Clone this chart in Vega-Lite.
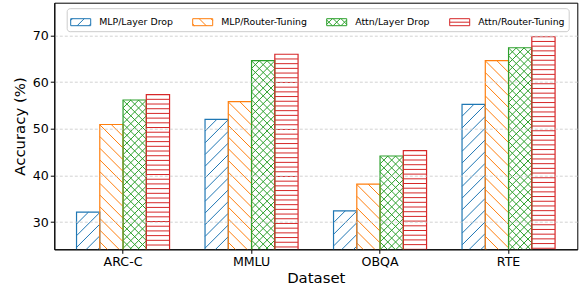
{
  "$schema": "https://vega.github.io/schema/vega-lite/v6.json",
  "width": 523,
  "height": 246.6,
  "autosize": "none",
  "padding": {"left": 54.3, "top": 2.7, "right": 6.7, "bottom": 39.7},
  "config": {
    "font": "DejaVu Sans",
    "view": {"stroke": "black", "strokeWidth": 1},
    "axis": {
      "labelFont": "DejaVu Sans",
      "titleFont": "DejaVu Sans",
      "labelFontSize": 12.6,
      "titleFontSize": 14.9,
      "titleFontWeight": "normal",
      "labelColor": "black",
      "titleColor": "black",
      "tickColor": "black",
      "domainColor": "black",
      "tickSize": 4,
      "labelPadding": 2
    },
    "legend": {
      "orient": "none",
      "legendX": 12.4,
      "legendY": 5.5,
      "direction": "horizontal",
      "columns": 4,
      "symbolSize": 400,
      "symbolStrokeWidth": 1,
      "symbolOpacity": 1,
      "symbolFillColor": "transparent",
      "labelFont": "DejaVu Sans",
      "labelFontSize": 9.4,
      "labelColor": "black",
      "labelOffset": 8,
      "columnPadding": 17,
      "padding": 3.5,
      "strokeColor": "#cccccc",
      "fillColor": "white",
      "cornerRadius": 3,
      "zindex": 2
    }
  },
  "data": {
    "values": [
      {"dataset": "ARC-C", "method": "MLP/Layer Drop", "accuracy": 32.1},
      {"dataset": "ARC-C", "method": "MLP/Router-Tuning", "accuracy": 50.9},
      {"dataset": "ARC-C", "method": "Attn/Layer Drop", "accuracy": 56.15},
      {"dataset": "ARC-C", "method": "Attn/Router-Tuning", "accuracy": 57.3},
      {"dataset": "MMLU", "method": "MLP/Layer Drop", "accuracy": 52.0},
      {"dataset": "MMLU", "method": "MLP/Router-Tuning", "accuracy": 55.8},
      {"dataset": "MMLU", "method": "Attn/Layer Drop", "accuracy": 64.6},
      {"dataset": "MMLU", "method": "Attn/Router-Tuning", "accuracy": 65.95},
      {"dataset": "OBQA", "method": "MLP/Layer Drop", "accuracy": 32.4},
      {"dataset": "OBQA", "method": "MLP/Router-Tuning", "accuracy": 38.1},
      {"dataset": "OBQA", "method": "Attn/Layer Drop", "accuracy": 44.15},
      {"dataset": "OBQA", "method": "Attn/Router-Tuning", "accuracy": 45.3},
      {"dataset": "RTE", "method": "MLP/Layer Drop", "accuracy": 55.2},
      {"dataset": "RTE", "method": "MLP/Router-Tuning", "accuracy": 64.6},
      {"dataset": "RTE", "method": "Attn/Layer Drop", "accuracy": 67.35},
      {"dataset": "RTE", "method": "Attn/Router-Tuning", "accuracy": 69.7}
    ]
  },
  "encoding": {
    "x": {
      "field": "dataset",
      "type": "nominal",
      "sort": ["ARC-C", "MMLU", "OBQA", "RTE"],
      "scale": {"paddingInner": 0.276, "paddingOuter": 0.173},
      "title": "Dataset",
      "axis": {"labelAngle": 0, "grid": false, "titlePadding": 3}
    },
    "xOffset": {
      "field": "method",
      "type": "nominal",
      "sort": ["MLP/Layer Drop", "MLP/Router-Tuning", "Attn/Layer Drop", "Attn/Router-Tuning"],
      "scale": {"paddingInner": 0, "paddingOuter": 0}
    },
    "y": {
      "field": "accuracy",
      "type": "quantitative",
      "scale": {"domain": [24.15, 77.0], "nice": false, "zero": false},
      "title": "Accuracy (%)",
      "axis": {
        "values": [30, 40, 50, 60, 70],
        "grid": true,
        "gridColor": "#c8c8c8",
        "gridDash": [3, 2],
        "gridWidth": 0.8,
        "titlePadding": 5,
        "zindex": 1
      }
    }
  },
  "resolve": {"scale": {"shape": "independent"}, "legend": {"stroke": "independent", "shape": "independent"}},
  "layer": [
    {
      "mark": {"type": "point", "filled": false, "opacity": 1, "clip": true, "strokeWidth": 1, "size": 4},
      "encoding": {
        "shape": {
          "field": "method",
          "type": "nominal",
          "legend": null,
          "scale": {
            "domain": ["MLP/Layer Drop", "MLP/Router-Tuning", "Attn/Layer Drop", "Attn/Router-Tuning"],
            "range": [
              "M-11.5,11.7L0.2,0M-11.5,23.4L11.5,0.4M-11.5,35.1L11.5,12.1M-11.5,46.8L11.5,23.8M-11.5,58.5L11.5,35.5M-11.5,70.2L11.5,47.2M-11.5,81.9L11.5,58.9M-11.5,93.6L11.5,70.6M-11.5,105.3L11.5,82.3M-11.5,117L11.5,94M-11.5,128.7L11.5,105.7M-11.5,140.4L11.5,117.4M-11.5,152.1L11.5,129.1M-11.5,163.8L11.5,140.8M-11.5,175.5L11.5,152.5M-11.5,187.2L11.5,164.2M-11.5,198.9L11.5,175.9M-11.5,210.6L11.5,187.6M-11.5,222.3L11.5,199.3M-11.5,234L11.5,211M-11.5,245.7L11.5,222.7",
              "M11.5,11.7L-0.2,0M11.5,23.4L-11.5,0.4M11.5,35.1L-11.5,12.1M11.5,46.8L-11.5,23.8M11.5,58.5L-11.5,35.5M11.5,70.2L-11.5,47.2M11.5,81.9L-11.5,58.9M11.5,93.6L-11.5,70.6M11.5,105.3L-11.5,82.3M11.5,117L-11.5,94M11.5,128.7L-11.5,105.7M11.5,140.4L-11.5,117.4M11.5,152.1L-11.5,129.1M11.5,163.8L-11.5,140.8M11.5,175.5L-11.5,152.5M11.5,187.2L-11.5,164.2M11.5,198.9L-11.5,175.9M11.5,210.6L-11.5,187.6M11.5,222.3L-11.5,199.3M11.5,234L-11.5,211M11.5,245.7L-11.5,222.7",
              "M-11.5,7.8L-3.7,0M-11.5,15.6L4.1,0M-11.5,23.4L11.5,0.4M-11.5,31.2L11.5,8.2M-11.5,39L11.5,16M-11.5,46.8L11.5,23.8M-11.5,54.6L11.5,31.6M-11.5,62.4L11.5,39.4M-11.5,70.2L11.5,47.2M-11.5,78L11.5,55M-11.5,85.8L11.5,62.8M-11.5,93.6L11.5,70.6M-11.5,101.4L11.5,78.4M-11.5,109.2L11.5,86.2M-11.5,117L11.5,94M-11.5,124.8L11.5,101.8M-11.5,132.6L11.5,109.6M-11.5,140.4L11.5,117.4M-11.5,148.2L11.5,125.2M-11.5,156L11.5,133M-11.5,163.8L11.5,140.8M-11.5,171.6L11.5,148.6M-11.5,179.4L11.5,156.4M-11.5,187.2L11.5,164.2M-11.5,195L11.5,172M-11.5,202.8L11.5,179.8M-11.5,210.6L11.5,187.6M-11.5,218.4L11.5,195.4M-11.5,226.2L11.5,203.2M-11.5,234L11.5,211M-11.5,241.8L11.5,218.8M11.5,7.8L3.7,0M11.5,15.6L-4.1,0M11.5,23.4L-11.5,0.4M11.5,31.2L-11.5,8.2M11.5,39L-11.5,16M11.5,46.8L-11.5,23.8M11.5,54.6L-11.5,31.6M11.5,62.4L-11.5,39.4M11.5,70.2L-11.5,47.2M11.5,78L-11.5,55M11.5,85.8L-11.5,62.8M11.5,93.6L-11.5,70.6M11.5,101.4L-11.5,78.4M11.5,109.2L-11.5,86.2M11.5,117L-11.5,94M11.5,124.8L-11.5,101.8M11.5,132.6L-11.5,109.6M11.5,140.4L-11.5,117.4M11.5,148.2L-11.5,125.2M11.5,156L-11.5,133M11.5,163.8L-11.5,140.8M11.5,171.6L-11.5,148.6M11.5,179.4L-11.5,156.4M11.5,187.2L-11.5,164.2M11.5,195L-11.5,172M11.5,202.8L-11.5,179.8M11.5,210.6L-11.5,187.6M11.5,218.4L-11.5,195.4M11.5,226.2L-11.5,203.2M11.5,234L-11.5,211M11.5,241.8L-11.5,218.8",
              "M-11.5,4.7L11.5,4.7M-11.5,9.4L11.5,9.4M-11.5,14.1L11.5,14.1M-11.5,18.8L11.5,18.8M-11.5,23.5L11.5,23.5M-11.5,28.2L11.5,28.2M-11.5,32.9L11.5,32.9M-11.5,37.6L11.5,37.6M-11.5,42.3L11.5,42.3M-11.5,47L11.5,47M-11.5,51.7L11.5,51.7M-11.5,56.4L11.5,56.4M-11.5,61.1L11.5,61.1M-11.5,65.8L11.5,65.8M-11.5,70.5L11.5,70.5M-11.5,75.2L11.5,75.2M-11.5,79.9L11.5,79.9M-11.5,84.6L11.5,84.6M-11.5,89.3L11.5,89.3M-11.5,94L11.5,94M-11.5,98.7L11.5,98.7M-11.5,103.4L11.5,103.4M-11.5,108.1L11.5,108.1M-11.5,112.8L11.5,112.8M-11.5,117.5L11.5,117.5M-11.5,122.2L11.5,122.2M-11.5,126.9L11.5,126.9M-11.5,131.6L11.5,131.6M-11.5,136.3L11.5,136.3M-11.5,141L11.5,141M-11.5,145.7L11.5,145.7M-11.5,150.4L11.5,150.4M-11.5,155.1L11.5,155.1M-11.5,159.8L11.5,159.8M-11.5,164.5L11.5,164.5M-11.5,169.2L11.5,169.2M-11.5,173.9L11.5,173.9M-11.5,178.6L11.5,178.6M-11.5,183.3L11.5,183.3M-11.5,188L11.5,188M-11.5,192.7L11.5,192.7M-11.5,197.4L11.5,197.4M-11.5,202.1L11.5,202.1M-11.5,206.8L11.5,206.8M-11.5,211.5L11.5,211.5M-11.5,216.2L11.5,216.2"
            ]
          }
        },
        "stroke": {
          "field": "method",
          "type": "nominal",
          "legend": null,
          "scale": {
            "domain": ["MLP/Layer Drop", "MLP/Router-Tuning", "Attn/Layer Drop", "Attn/Router-Tuning"],
            "range": ["#1f77b4", "#ff7f0e", "#2ca02c", "#d62728"]
          }
        }
      }
    },
    {
      "mark": {"type": "bar", "filled": false, "clip": true, "strokeWidth": 1.2},
      "encoding": {
        "stroke": {
          "field": "method",
          "type": "nominal",
          "legend": null,
          "scale": {
            "domain": ["MLP/Layer Drop", "MLP/Router-Tuning", "Attn/Layer Drop", "Attn/Router-Tuning"],
            "range": ["#1f77b4", "#ff7f0e", "#2ca02c", "#d62728"]
          }
        }
      }
    },
    {
      "mark": {"type": "point", "filled": false, "opacity": 0, "strokeWidth": 1, "clip": true},
      "encoding": {
        "stroke": {
          "field": "method",
          "type": "nominal",
          "title": null,
          "scale": {
            "domain": ["MLP/Layer Drop", "MLP/Router-Tuning", "Attn/Layer Drop", "Attn/Router-Tuning"],
            "range": ["#1f77b4", "#ff7f0e", "#2ca02c", "#d62728"]
          },
          "legend": {"title": null}
        },
        "shape": {
          "field": "method",
          "type": "nominal",
          "title": null,
          "legend": {"title": null},
          "scale": {
            "domain": ["MLP/Layer Drop", "MLP/Router-Tuning", "Attn/Layer Drop", "Attn/Router-Tuning"],
            "range": [
              "M-1,-0.35L1,-0.35L1,0.35L-1,0.35ZM-1,-0.17L-0.82,-0.35M-0.35,0.35L0.35,-0.35M0.82,0.35L1,0.17",
              "M-1,-0.35L1,-0.35L1,0.35L-1,0.35ZM-1,0.17L-0.82,0.35M-0.35,-0.35L0.35,0.35M0.82,-0.35L1,-0.17",
              "M-1,-0.35L1,-0.35L1,0.35L-1,0.35ZM-1,0.22L-0.43,-0.35M-0.35,0.35L0.35,-0.35M0.43,0.35L1,-0.22M-1,-0.22L-0.43,0.35M-0.35,-0.35L0.35,0.35M0.43,-0.35L1,0.22",
              "M-1,-0.35L1,-0.35L1,0.35L-1,0.35ZM-1,0L1,0"
            ]
          }
        }
      }
    }
  ]
}
